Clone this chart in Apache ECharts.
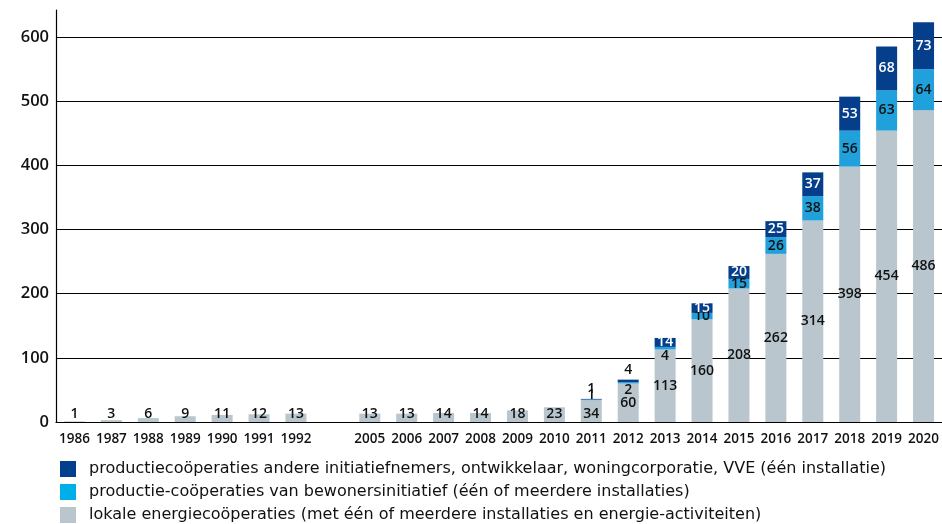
<!DOCTYPE html>
<html>
<head>
<meta charset="utf-8">
<script src="https://cdn.jsdelivr.net/npm/echarts@6/dist/echarts.min.js"></script>
<style>
  html, body { margin: 0; padding: 0; background: #fff; }
  #chart { width: 942px; height: 524px; }
</style>
</head>
<body>
<div id="chart"></div>
<script>
// jaren (lege categorie = sprong 1992 -> 2005)
var years = ['1986','1987','1988','1989','1990','1991','1992','','2005','2006','2007','2008','2009','2010',
             '2011','2012','2013','2014','2015','2016','2017','2018','2019','2020'];
var lokaal = [1,3,6,9,11,12,13,null,13,13,14,14,18,23,34,60,113,160,208,262,314,398,454,486];
var bewoners = [null,null,null,null,null,null,null,null,null,null,null,null,null,null,1,2,4,10,15,26,38,56,63,64];
var anderen = [null,null,null,null,null,null,null,null,null,null,null,null,null,null,1,4,14,15,20,25,37,53,68,73];
var yTicks = [0,100,200,300,400,500,600];

var names = [
  'productiecoöperaties andere initiatiefnemers, ontwikkelaar, woningcorporatie, VVE (één installatie)',
  'productie-coöperaties van bewonersinitiatief (één of meerdere installaties)',
  'lokale energiecoöperaties (met één of meerdere installaties en energie-activiteiten)'
];
var cDark = '#053f8c', cLight = '#21a1db', cGrey = '#b9c6cd';
var numFont = 'Open Sans';
var textFont = 'DejaVu Sans';

function lokaalData() {
  return lokaal.map(function (v) {
    if (v != null && v < 40) return { value: v, label: { position: 'insideBottom', distance: 1 } };
    return v;
  });
}
function bewonersData() {
  return bewoners.map(function (v) {
    if (v != null && v > 1 && v < 9) return { value: v, label: { position: 'bottom', distance: 0 } };
    if (v != null && v <= 1) return { value: v, label: { position: 'top', distance: -2 } };
    return v;
  });
}
function anderenData() {
  return anderen.map(function (v) {
    if (v != null && v < 5) return { value: v, label: { position: 'top', distance: 3, color: '#111' } };
    return v;
  });
}

var lbl = { show: true, position: 'inside', color: '#111', fontFamily: numFont, fontSize: 14, fontWeight: 600 };

var chart = echarts.init(document.getElementById('chart'));
var option = {
  backgroundColor: '#fff',
  animation: false,
  textStyle: { fontFamily: numFont },
  grid: [
    { left: 56, top: 10, width: 888, bottom: 102 },
    { left: 49, top: 10, width: 888, bottom: 102 }
  ],
  legend: {
    orient: 'vertical',
    left: 55,
    top: 456,
    height: 70,
    itemWidth: 16,
    itemHeight: 16,
    itemGap: 7,
    icon: 'rect',
    textStyle: { fontFamily: textFont, fontSize: 16, lineHeight: 16, color: '#111', padding: [0, 0, 0, 8] },
    data: [
      { name: names[0], itemStyle: { color: '#02408f' } },
      { name: names[1], itemStyle: { color: '#00aee9' } },
      { name: names[2], itemStyle: { color: cGrey } }
    ]
  },
  xAxis: [
    {
      type: 'category',
      data: years,
      boundaryGap: true,
      axisLine: { lineStyle: { color: '#000', width: 1.2 } },
      axisTick: { inside: true, length: 8, lineStyle: { color: '#000' } },
      axisLabel: { color: '#111', fontFamily: numFont, fontSize: 13.5, fontWeight: 600, margin: 10, interval: 0 }
    },
    {
      type: 'category',
      gridIndex: 1,
      data: years,
      boundaryGap: true,
      axisLine: { show: false },
      axisLabel: { show: false },
      axisTick: {
        inside: true, length: 8, lineStyle: { color: '#000' },
        interval: function (i) { return i >= 1 && i !== 7 && i !== 8; }
      }
    }
  ],
  yAxis: [
    {
      type: 'value',
      min: 0,
      max: 642,
      interval: 100,
      axisLine: { show: true, lineStyle: { color: '#000', width: 1.2 } },
      axisTick: { show: false },
      splitLine: { showMaxLine: false, lineStyle: { color: '#000', width: 1 } },
      axisLabel: {
        color: '#111', fontFamily: numFont, fontSize: 16.5, fontWeight: 600, margin: 7, showMaxLabel: false,
        formatter: function (v) { return yTicks.indexOf(v) >= 0 ? String(v) : ''; }
      }
    },
    { type: 'value', gridIndex: 1, min: 0, max: 642, show: false }
  ],
  series: [
    {
      name: names[2], type: 'bar', stack: 'a', barWidth: 21,
      itemStyle: { color: cGrey },
      label: lbl,
      data: lokaalData()
    },
    {
      name: names[1], type: 'bar', stack: 'a', barWidth: 21,
      itemStyle: { color: cLight },
      label: lbl,
      data: bewonersData()
    },
    {
      name: names[0], type: 'bar', stack: 'a', barWidth: 21,
      itemStyle: { color: cDark },
      label: Object.assign({}, lbl, { color: '#fff' }),
      data: anderenData()
    }
  ]
};
chart.setOption(option);
</script>
</body>
</html>
